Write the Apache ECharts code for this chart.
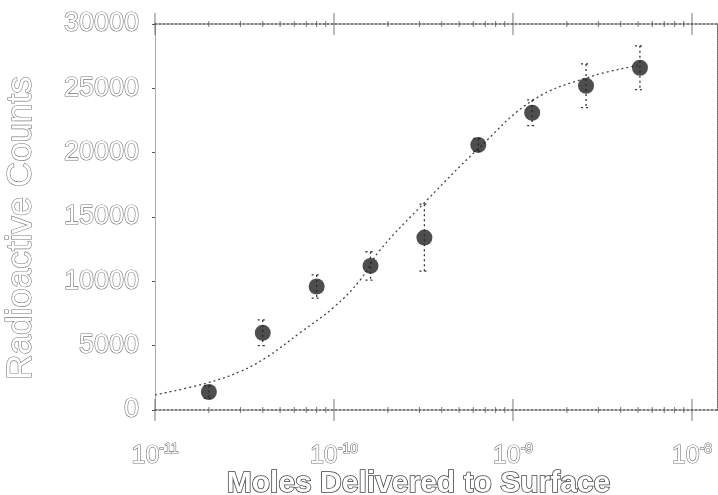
<!DOCTYPE html>
<html><head><meta charset="utf-8">
<script src="https://cdn.jsdelivr.net/npm/echarts@6/dist/echarts.min.js"></script>
<style>html,body{margin:0;padding:0;background:#fff}#c{width:718px;height:495px}</style>
</head><body><div id="c"></div>
<script>
// Measured data (moles delivered, radioactive counts, ± error)
const moles = [2e-11, 4e-11, 8e-11, 1.6e-10, 3.2e-10, 6.4e-10, 1.28e-9, 2.56e-9, 5.12e-9];
const counts = [1400, 6000, 9600, 11200, 13400, 20600, 23100, 25200, 26600];
const errors = [500, 1000, 900, 1100, 2600, 500, 1000, 1700, 1700];
// Fitted curve
const fitX = [1e-11, 1.95e-11, 3e-11, 4.2e-11, 6.45e-11, 1e-10, 1.4e-10, 1.8e-10, 3.3e-10, 6.5e-10, 1.3e-9, 2.7e-9, 5.1e-9];
const fitY = [1170, 2100, 3000, 4100, 6000, 8000, 10100, 12400, 16300, 20400, 24100, 25900, 26800];
// Tick positions
const majorTicks = [1e-11, 1e-10, 1e-9, 1e-8];
const minorTicks = [2e-11, 3e-11, 4e-11, 5e-11, 6e-11, 7e-11, 8e-11, 9e-11,
                    2e-10, 3e-10, 4e-10, 5e-10, 6e-10, 7e-10, 8e-10, 9e-10,
                    2e-9, 3e-9, 4e-9, 5e-9, 6e-9, 7e-9, 8e-9, 9e-9];
const yTickValues = [0, 5000, 10000, 15000, 20000, 25000, 30000];
const xTitle = 'Moles Delivered to Surface';
const yTitle = 'Radioactive Counts';

const FONT = 'Liberation Sans';
const AX = '#555';
const hollow = {color: '#fff', textBorderColor: '#777', textBorderWidth: 1.2};

const tickSeries = (vals, yv, h) => ({
  type: 'scatter', data: vals.map(v => [v, yv]), symbol: 'rect', symbolSize: [1, h],
  itemStyle: {color: AX}, silent: true, clip: false, z: 1
});

const chart = echarts.init(document.getElementById('c'));
chart.setOption({
  backgroundColor: '#fff',
  animation: false,
  grid: {left: 155, right: 1, top: 24, bottom: 85, containLabel: false, outerBoundsMode: 'none'},
  xAxis: [{
    type: 'log', logBase: 10, min: 1e-11, max: 1.38e-8,
    name: xTitle, nameLocation: 'middle', nameGap: 59, nameMoveOverlap: false,
    nameTextStyle: {fontFamily: FONT, fontSize: 30, fontWeight: 'bold', padding: [0, 35, 0, 0],
                    color: '#fff', textBorderColor: '#444', textBorderWidth: 1.6},
    axisLine: {show: true, lineStyle: {color: AX, type: [2, 2], width: 1.5}},
    axisTick: {show: false}, splitLine: {show: false}, minorTick: {show: false},
    axisLabel: {
      showMaxLabel: false, margin: 32,
      formatter: v => {
        const e = Math.log10(v);
        if (Math.abs(e - Math.round(e)) > 1e-6) return '';
        return '{b|10}{s|' + Math.round(e) + '}';
      },
      rich: {
        b: Object.assign({fontFamily: FONT, fontSize: 25, lineHeight: 28}, hollow),
        s: Object.assign({fontFamily: FONT, fontSize: 14, lineHeight: 14, verticalAlign: 'top'}, hollow)
      }
    }
  }, {
    type: 'value', min: 0, max: 1, position: 'top',
    axisLine: {show: true, onZero: false, lineStyle: {color: AX, type: [2, 2], width: 1.5}},
    axisTick: {show: false}, axisLabel: {show: false}, splitLine: {show: false}
  }],
  yAxis: [{
    type: 'value', min: 0, max: 30000, interval: 5000,
    name: yTitle, nameLocation: 'middle', nameGap: 116, nameMoveOverlap: false,
    nameTextStyle: Object.assign({fontFamily: FONT, fontSize: 35, padding: [0, 22, 0, 0]}, hollow),
    axisLine: {show: true, lineStyle: {color: '#999', type: 'dotted', width: 1}},
    axisTick: {show: true, length: 3, lineStyle: {color: AX}},
    splitLine: {show: false},
    axisLabel: Object.assign({fontFamily: FONT, fontSize: 27, margin: 16, formatter: v => String(v)}, hollow)
  }, {
    type: 'value', min: 0, max: 30000, position: 'right',
    axisLine: {show: true, lineStyle: {color: AX, type: 'dotted', width: 1}},
    axisTick: {show: false}, axisLabel: {show: false}, splitLine: {show: false}
  }],
  series: [
    tickSeries(majorTicks, 0, 22),
    tickSeries(minorTicks, 0, 6),
    tickSeries(majorTicks, 30000, 22),
    tickSeries(minorTicks, 30000, 6),
    {
      type: 'line', data: fitX.map((x, i) => [x, fitY[i]]), smooth: 0.4, showSymbol: false,
      lineStyle: {color: '#444', width: 1.3, type: [2, 3]}, silent: true, z: 2
    },
    {
      type: 'custom', z: 3, silent: true,
      data: moles.map((m, i) => [m, counts[i] - errors[i], counts[i] + errors[i]]),
      encode: {x: 0, y: [1, 2]},
      renderItem: (params, api) => {
        const x = api.value(0);
        const lo = api.coord([x, api.value(1)]);
        const hi = api.coord([x, api.value(2)]);
        const w = 5;
        const style = {stroke: '#333', lineWidth: 1.3, lineDash: [2, 3], fill: null};
        return {type: 'group', children: [
          {type: 'line', shape: {x1: hi[0], y1: hi[1], x2: lo[0], y2: lo[1]}, style},
          {type: 'line', shape: {x1: hi[0] - w, y1: hi[1], x2: hi[0] + w, y2: hi[1]}, style},
          {type: 'line', shape: {x1: lo[0] - w, y1: lo[1], x2: lo[0] + w, y2: lo[1]}, style}
        ]};
      }
    },
    {
      type: 'scatter', data: moles.map((m, i) => [m, counts[i]]), symbol: 'circle', symbolSize: 16,
      itemStyle: {color: '#222'}, z: 4
    }
  ]
});
</script>
</body></html>
